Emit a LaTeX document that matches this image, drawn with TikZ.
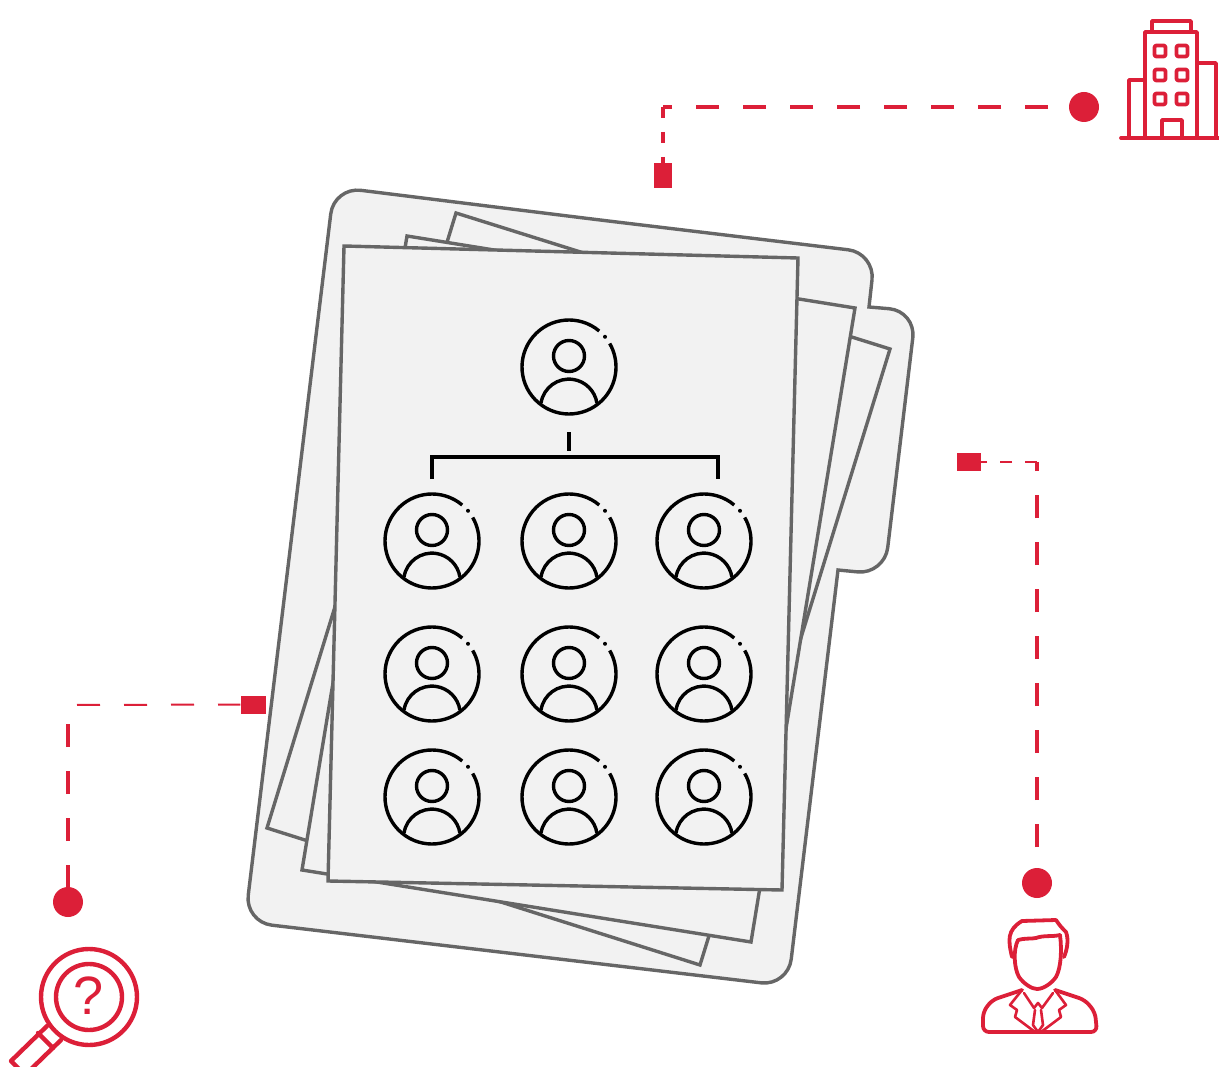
\documentclass[tikz,border=0pt]{standalone}
\usepackage{fontspec}
\newfontfamily\iconfont{Liberation Sans}
\definecolor{markred}{HTML}{DC1F38}
\definecolor{sheetfill}{HTML}{F2F2F2}
\definecolor{sheetline}{HTML}{666666}
\tikzset{
  sheet/.style={draw=sheetline,fill=sheetfill,line width=3.4pt,line join=miter},
  icon/.style={draw=markred,line width=3.8pt,line join=round,line cap=round},
  avatar/.style={draw=black,line width=3.4pt},
  enddot/.style={circle,fill=markred,inner sep=0pt,minimum size=30pt},
  tag/.style={rectangle,fill=markred,inner sep=0pt},
  linklong/.style={draw=markred,line width=3.2pt,dash pattern=on 23pt off 24pt},
  linkshort/.style={draw=markred,line width=2.6pt,dash pattern=on 12pt off 13pt},
  linkthin/.style={draw=markred,line width=2pt,dash pattern=on 23pt off 24pt}
}
\begin{document}
\begin{tikzpicture}[x=1pt,y=-1pt]
  \clip (0,0) rectangle (1219,1067);
  \useasboundingbox (0,0) rectangle (1219,1067);
  % folder
  \draw[sheet,rounded corners=27pt] (600,220) -- (875,253)
    [sharp corners] -- (869,307) [rounded corners=27pt] -- (916,311) -- (884.5,574.5)
    [sharp corners] -- (838,570) [rounded corners=27pt] -- (788,986) -- (245,922)
    -- (334,187) -- cycle;
  % sheets
  \draw[sheet] (456,213) -- (890,349) -- (700,965) -- (267,828) -- cycle;
  \draw[sheet] (407,236) -- (855,308) -- (751,942) -- (302,870) -- cycle;
  \draw[sheet] (344,246) -- (798,258) -- (782,890) -- (328,881) -- cycle;
  % org chart
  \foreach \x/\y in {569/367,432/541,569/541,704/541,432/674,569/674,704/674,432/797,569/797,704/797}{
    \begin{scope}[shift={(\x,\y)}]
      \draw[avatar] (50:47pt) arc[start angle=50,end angle=390,radius=47pt];
      \fill (40:47pt) circle (2pt);
      \draw[avatar] (0,-11) circle (15.5pt);
      \draw[avatar] (-28,36) arc[start angle=171,end angle=9,radius=28.3pt];
    \end{scope}
  }
  \draw[avatar] (569,432) -- (569,451);
  \draw[avatar] (432,479) -- (432,457) -- (718,457) -- (718,479);
  % connectors
  \node[enddot] (dotbuilding) at (1084,107) {};
  \node[tag,minimum width=18pt,minimum height=25pt] (tagbuilding) at (663,175.5) {};
  \coordinate (cornerbuilding) at (663,107);
  \draw[linklong,dash phase=11pt] (dotbuilding.center) -- (cornerbuilding);
  \draw[linkshort,line width=3.2pt,dash pattern=on 11pt off 14pt] (cornerbuilding) -- (tagbuilding);
  \node[enddot] (dotperson) at (1037,883) {};
  \node[tag,minimum width=24pt,minimum height=18pt] (tagperson) at (969,462) {};
  \coordinate (cornerperson) at (1037,462);
  \draw[linklong,dash phase=11pt] (dotperson.center) -- (cornerperson);
  \draw[linkshort] (cornerperson) -- (tagperson);
  \node[enddot] (dotsearch) at (68,902) {};
  \node[tag,minimum width=25pt,minimum height=18pt] (tagsearch) at (253,704.5) {};
  \coordinate (cornersearch) at (68,705);
  \draw[linklong,dash phase=33pt] (dotsearch.center) -- (cornersearch);
  \draw[linkthin,dash phase=38pt] (cornersearch) -- (tagsearch);
  % building
  \draw[icon] (1121,138) -- (1219,138);
  \draw[icon] (1145,138) -- (1145,32) -- (1197,32) -- (1197,138);
  \draw[icon] (1152,32) -- (1152,21) -- (1191,21) -- (1191,32);
  \draw[icon] (1145,80) -- (1129,80) -- (1129,138);
  \draw[icon] (1197,63) -- (1216,63) -- (1216,138);
  \draw[icon] (1162,138) -- (1162,120) -- (1182,120) -- (1182,138);
  \foreach \x/\y in {1160/51,1182/51,1160/75,1182/75,1160/99,1182/99}{
    \begin{scope}[shift={(\x,\y)}]
      \draw[icon,rounded corners=2pt] (-5.5,-5.5) rectangle (5.5,5.5);
    \end{scope}
  }
  % person
  \draw[icon] (1012,957) .. controls (1008,940) and (1007,930) .. (1022,921)
    -- (1056,920) .. controls (1060,926) and (1062,928) .. (1066,932)
    .. controls (1069,940) and (1067,950) .. (1064,957);
  \draw[icon] (1018,940) .. controls (1024,938) and (1032,939) .. (1036,938)
    .. controls (1044,935) and (1052,937) .. (1060,935);
  \draw[icon] (1018,940) .. controls (1013,950) and (1014,968) .. (1019,977)
    .. controls (1024,984) and (1032,989) .. (1037,989)
    .. controls (1043,989) and (1051,984) .. (1056,977)
    .. controls (1061,968) and (1062,950) .. (1060,935);
  \draw[icon,rounded corners=6pt] (1022,990) -- (992,1000) -- (983,1012) -- (983,1032)
    -- (1097,1032) -- (1095,1012) -- (1085,1000) -- (1055,990);
  \draw[icon,line width=2.6pt] (1022,990) -- (1010,1005) -- (1017,1010) -- (1015,1017) -- (1035,1032);
  \draw[icon,line width=2.6pt] (1055,990) -- (1066,1005) -- (1059,1010) -- (1061,1017) -- (1041,1032);
  \draw[icon,line width=2.6pt] (1024,993) -- (1034,1008) -- (1038,1003) -- (1042,1008) -- (1053,993);
  \draw[icon,line width=2.6pt] (1035,1010) -- (1033,1025) -- (1038,1032) -- (1043,1025) -- (1041,1010);
  % magnifier
  \draw[icon,line width=4.4pt] (89,997) circle (48pt);
  \draw[icon,line width=4.4pt] (89,997) circle (33pt);
  \draw[icon,line width=4.4pt] (47,1026) -- (11,1061) -- (25,1075) -- (61,1040);
  \draw[icon,line width=4.4pt] (38,1033) -- (53,1048);
  \node[text=markred,font=\iconfont\fontsize{54}{54}\selectfont,inner sep=0pt] (question) at (89,996) {?};
\end{tikzpicture}
\end{document}
